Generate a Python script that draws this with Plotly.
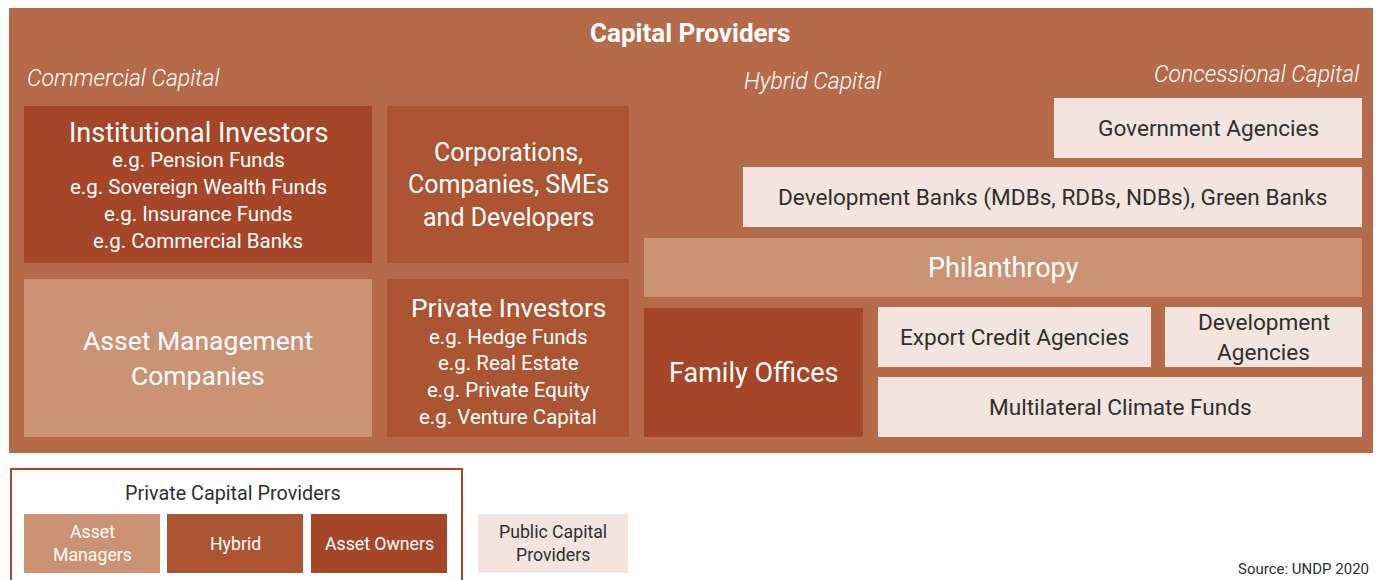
import plotly.graph_objects as go

W, H = 1381, 580
OFF = 8  # page body margin compensation
FONT = "Roboto, 'Noto Sans', 'DejaVu Sans', sans-serif"

# ---- colours ----
PANEL = "#B56B49"
DARK = "#A54628"
MED = "#AC5532"
LIGHT = "#CB9274"
PALE = "#F3E5DD"
TXT_DARK = "#2f2f2f"

# ---- content ----
title = "Capital Providers"
group_labels = ["Commercial Capital", "Hybrid Capital", "Concessional Capital"]

box_names = [
    "Institutional Investors", "Corporations", "Asset Management", "Private Investors",
    "Government Agencies", "Development Banks", "Philanthropy", "Family Offices",
    "Export Credit Agencies", "Development Agencies", "Multilateral Climate Funds",
]
box_lines = [
    ["Institutional Investors", "e.g. Pension Funds", "e.g. Sovereign Wealth Funds",
     "e.g. Insurance Funds", "e.g. Commercial Banks"],
    ["Corporations,", "Companies, SMEs", "and Developers"],
    ["Asset Management", "Companies"],
    ["Private Investors", "e.g. Hedge Funds", "e.g. Real Estate",
     "e.g. Private Equity", "e.g. Venture Capital"],
    ["Government Agencies"],
    ["Development Banks (MDBs, RDBs, NDBs), Green Banks"],
    ["Philanthropy"],
    ["Family Offices"],
    ["Export Credit Agencies"],
    ["Development", "Agencies"],
    ["Multilateral Climate Funds"],
]
box_kind = ["owner", "hybrid", "manager", "hybrid", "public", "public", "manager",
            "owner", "public", "public", "public"]

legend_title = "Private Capital Providers"
legend_items = [["Asset", "Managers"], ["Hybrid"], ["Asset Owners"], ["Public Capital", "Providers"]]
legend_kind = ["manager", "hybrid", "owner", "public"]
source_text = "Source: UNDP 2020"

# ---- layout geometry (pixels, y downward) ----
panel_geom = (9, 1376, 7, 453)
box_geom = [
    (24, 372, 106, 263), (387, 629, 106, 263), (24, 372, 279, 437), (387, 629, 279, 437),
    (1054, 1362, 98, 158), (743, 1362, 167, 227), (644, 1362, 238, 297), (644, 863, 308, 437),
    (878, 1151, 307, 367), (1165, 1362, 307, 367), (878, 1362, 377, 437),
]
# per-line (font size, line height)
box_style = [
    [(27, 29)] + [(20.5, 26.7)] * 4,
    [(25, 32.5)] * 3,
    [(26.5, 35)] * 2,
    [(26.3, 30.5)] + [(20.5, 26.7)] * 4,
    [(22.6, 30)],
    [(22.6, 30)],
    [(27, 30)],
    [(27, 30)],
    [(22.6, 30)],
    [(22.6, 30)] * 2,
    [(22.6, 30)],
]
box_text_shift = [1.5, 0, 0, 3.5, 0, 0, 0, 0, 0, 0, 0]
legend_geom = [(24, 160, 514, 573), (167, 303, 514, 573), (311, 447, 514, 573), (478, 628, 514, 573)]
fill_of = {"owner": DARK, "hybrid": MED, "manager": LIGHT, "public": PALE}

fig = go.Figure()
shapes, annos = [], []


def rect(x0, x1, y0, y1, fill, line_color=None, lw=0):
    shapes.append(dict(type="rect", xref="x", yref="y", x0=x0, x1=x1, y0=y0, y1=y1,
                       fillcolor=fill, line=dict(color=line_color or fill, width=lw),
                       layer="below"))


def text(x, y, s, size, color, xanchor="center", italic=False, bold=False, weight=None):
    annos.append(dict(x=x, y=y, xref="x", yref="y", text=s, showarrow=False,
                      xanchor=xanchor, yanchor="middle",
                      font=dict(family=FONT, size=size, color=color,
                                style="italic" if italic else "normal",
                                weight=weight if weight else (700 if bold else 400))))


def lines_in_box(geom, lines, styles, color, shift=0):
    x0, x1, y0, y1 = geom
    cx, cy = (x0 + x1) / 2, (y0 + y1) / 2 + shift
    total = sum(h for _, h in styles)
    y = cy - total / 2
    for s, (fs, h) in zip(lines, styles):
        text(cx, y + h / 2, s, fs, color)
        y += h


# panel
rect(panel_geom[0], panel_geom[1], panel_geom[2], panel_geom[3], PANEL)
text(690, 33, title, 26, "white", bold=True)
text(25, 78, group_labels[0], 23, "white", xanchor="left", italic=True, weight=300)
text(812, 81, group_labels[1], 23, "white", italic=True, weight=300)
text(1361, 74, group_labels[2], 23, "white", xanchor="right", italic=True, weight=300)

for geom, lines, style, kind, sh in zip(box_geom, box_lines, box_style, box_kind, box_text_shift):
    fill = fill_of[kind]
    rect(*geom, fill)
    lines_in_box(geom, lines, style, TXT_DARK if kind == "public" else "white", sh)

# legend
rect(11, 462, 469, 600, "rgba(0,0,0,0)", line_color=DARK, lw=2)
text(233, 493, legend_title, 19.8, TXT_DARK)
for geom, lines, kind in zip(legend_geom, legend_items, legend_kind):
    rect(*geom, fill_of[kind])
    lines_in_box(geom, lines, [(17.7, 23)] * len(lines), TXT_DARK if kind == "public" else "white")

text(1371, 569, source_text, 15, TXT_DARK, xanchor="right")

fig.update_layout(
    width=W, height=H, margin=dict(l=0, r=0, t=0, b=0),
    paper_bgcolor="white", plot_bgcolor="white",
    xaxis=dict(range=[OFF, W + OFF], visible=False, fixedrange=True),
    yaxis=dict(range=[H + OFF, OFF], visible=False, fixedrange=True),
    shapes=shapes, annotations=annos, showlegend=False,
)
fig.write_html("out.html")
